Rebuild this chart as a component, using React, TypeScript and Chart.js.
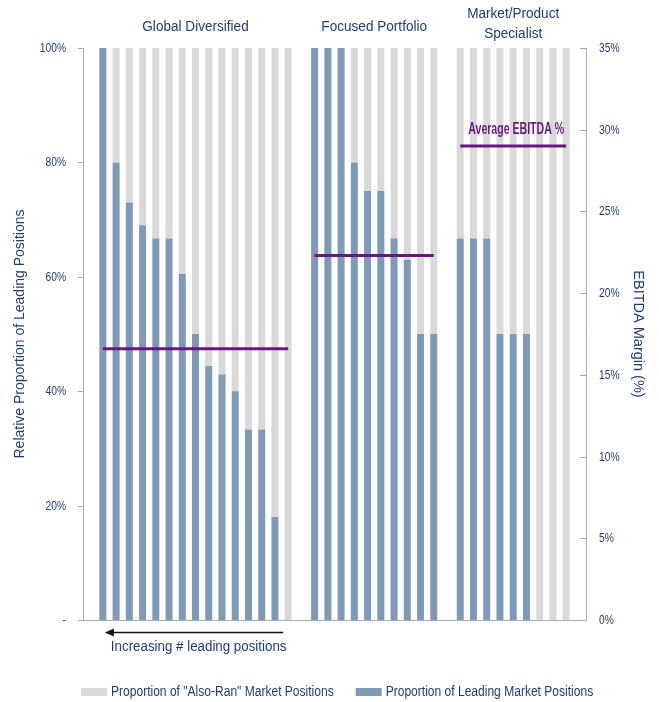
import React, { useEffect, useRef } from "react";
import { Chart, registerables } from "chart.js";

Chart.register(...registerables);

// ---------- data ----------
const groupNames = ["Global Diversified", "Focused Portfolio", "Market/Product\nSpecialist"];
const globalLeading = [100, 80, 73, 69, 66.7, 66.7, 60.5, 50, 44.4, 42.9, 40, 33.3, 33.3, 18, 0];
const focusedLeading = [100, 100, 100, 80, 75, 75, 66.7, 63, 50, 50];
const specialistLeading = [66.7, 66.7, 66.7, 50, 50, 50, 0, 0, 0];
const avgEbitda = [16.6, 22.3, 29.0];
const seriesNames = ['Proportion of "Also-Ran" Market Positions', "Proportion of Leading Market Positions"];
const leftTitle = "Relative Proportion of Leading Positions";
const rightTitle = "EBITDA Margin (%)";
const arrowNote = "Increasing # leading positions";
const avgLabel = "Average EBITDA %";

// ---------- styles ----------
const TEXT = "#1f3d72";
const AXIS = "#a3aab8";
const BLUE = "#7f9ab6";
const GREY = "#d9d9d9";
const PURPLE = "#68187c";
const SANS = "'Liberation Sans', Arial, sans-serif";
const SX = 0.86; // horizontal condensing of narrow text
const TICK_SX = 0.76;

// ---------- build slot table ----------
const groupsData = [globalLeading, focusedLeading, specialistLeading];
const leading: (number | null)[] = [null];
const groupRanges: [number, number][] = [];
groupsData.forEach((g) => {
  const s = leading.length;
  g.forEach((v) => leading.push(v));
  groupRanges.push([s, leading.length - 1]);
  leading.push(null);
});
const alsoRan = leading.map((v) => (v == null ? null : 100 - v));
const labels = leading.map((_, i) => String(i));
const avgLines = groupRanges.map((r, gi) =>
  leading.map((_, i) => (i >= r[0] && i <= r[1] ? avgEbitda[gi] : null))
);

function cText(ctx: any, text: string, x: number, y: number, align: string, sx: number) {
  ctx.save();
  ctx.translate(x, y);
  ctx.scale(sx, 1);
  ctx.textAlign = align;
  ctx.fillText(text, 0, 0);
  ctx.restore();
}

const overlay = {
  id: "overlay",
  afterDatasetsDraw(chart: any) {
    const { ctx, chartArea, scales } = chart;
    const x = scales.x;
    const y = scales.y;
    const y2 = scales.y2;
    ctx.save();
    ctx.textBaseline = "middle";
    // left axis ticks + labels
    ctx.strokeStyle = AXIS;
    ctx.lineWidth = 1;
    ctx.fillStyle = TEXT;
    ctx.font = `13.5px ${SANS}`;
    y.ticks.forEach((t: any) => {
      const py = Math.round(y.getPixelForValue(t.value)) + 0.5;
      ctx.beginPath();
      ctx.moveTo(chartArea.left - 5, py);
      ctx.lineTo(chartArea.left, py);
      ctx.stroke();
      cText(ctx, t.value === 0 ? "-" : t.value + "%", chartArea.left - 17, py, "right", TICK_SX);
    });
    // right axis ticks (inward) + labels
    y2.ticks.forEach((t: any) => {
      const py = Math.round(y2.getPixelForValue(t.value)) + 0.5;
      ctx.beginPath();
      ctx.moveTo(chartArea.right - 6, py);
      ctx.lineTo(chartArea.right, py);
      ctx.stroke();
      cText(ctx, t.value + "%", chartArea.right + 13, py, "left", TICK_SX);
    });
    // group titles
    ctx.font = `14px ${SANS}`;
    groupRanges.forEach((r, gi) => {
      const cx = (x.getPixelForValue(r[0]) + x.getPixelForValue(r[1])) / 2;
      const lines = groupNames[gi].split("\n");
      const off = lines.length === 1 ? 21 : 14;
      lines.forEach((ln, li) => {
        cText(ctx, ln, cx, chartArea.top - off - (lines.length - 1 - li) * 20, "center", 0.97);
      });
    });
    // average label
    const r3 = groupRanges[2];
    const cx3 = (x.getPixelForValue(r3[0]) + x.getPixelForValue(r3[1])) / 2;
    ctx.fillStyle = PURPLE;
    ctx.font = `bold 16px ${SANS}`;
    cText(ctx, avgLabel, cx3 + 3, y2.getPixelForValue(avgEbitda[2]) - 16, "center", 0.66);
    // arrow
    const ay = chartArea.bottom + 12.5;
    const x0 = x.getPixelForValue(groupRanges[0][0]) + 2;
    const x1 = x.getPixelForValue(groupRanges[0][1]) - 5;
    ctx.strokeStyle = "#111";
    ctx.lineWidth = 1.5;
    ctx.beginPath();
    ctx.moveTo(x1, ay);
    ctx.lineTo(x0 + 6, ay);
    ctx.stroke();
    ctx.fillStyle = "#111";
    ctx.beginPath();
    ctx.moveTo(x0, ay);
    ctx.lineTo(x0 + 9, ay - 4);
    ctx.lineTo(x0 + 9, ay + 4);
    ctx.closePath();
    ctx.fill();
    ctx.fillStyle = TEXT;
    ctx.font = `15.5px ${SANS}`;
    cText(ctx, arrowNote, x0 + 6, chartArea.bottom + 27, "left", SX);
    // legend
    ctx.font = `14px ${SANS}`;
    const ly = chartArea.bottom + 72;
    const items = [
      { text: seriesNames[0], color: GREY },
      { text: seriesNames[1], color: BLUE },
    ];
    let lx = chartArea.left - 2;
    items.forEach((it) => {
      ctx.fillStyle = it.color;
      ctx.fillRect(lx, ly - 4, 26, 8);
      ctx.fillStyle = TEXT;
      cText(ctx, it.text, lx + 30, ly, "left", SX);
      lx += 30 + ctx.measureText(it.text).width * SX + 22;
    });
    ctx.restore();
  },
};

export default function App() {
  const ref = useRef<HTMLCanvasElement | null>(null);
  useEffect(() => {
    if (!ref.current) return;
    const lineSets = avgLines.map((d) => ({
      type: "line" as const,
      label: "avg",
      data: d,
      yAxisID: "y2",
      borderColor: PURPLE,
      borderWidth: 3,
      pointRadius: 0,
      spanGaps: false,
      borderCapStyle: "butt" as const,
      order: 0,
    }));
    const chart = new Chart(ref.current, {
      type: "bar",
      data: {
        labels,
        datasets: [
          ...lineSets,
          {
            label: seriesNames[1],
            data: leading,
            backgroundColor: BLUE,
            borderWidth: 0,
            yAxisID: "y",
            order: 1,
            barPercentage: 0.53,
            categoryPercentage: 1,
          },
          {
            label: seriesNames[0],
            data: alsoRan,
            backgroundColor: GREY,
            borderWidth: 0,
            yAxisID: "y",
            order: 1,
            barPercentage: 0.53,
            categoryPercentage: 1,
          },
        ] as any,
      },
      options: {
        animation: false,
        responsive: false,
        layout: { padding: { top: 48, left: 0, right: 0, bottom: 0 } },
        plugins: {
          tooltip: { enabled: false },
          legend: { display: false },
        },
        scales: {
          x: {
            stacked: true,
            grid: { display: false },
            border: { display: true, color: AXIS },
            ticks: { display: false },
            afterFit: (s: any) => {
              s.height = 82;
            },
          },
          y: {
            stacked: true,
            position: "left",
            min: 0,
            max: 100,
            ticks: { stepSize: 20, display: false },
            grid: { display: false },
            border: { color: AXIS },
            title: {
              display: true,
              text: leftTitle,
              color: TEXT,
              font: { family: SANS, size: 14 },
              padding: { top: 12, bottom: 0 },
            },
            afterFit: (s: any) => {
              s.width = 83;
            },
          },
          y2: {
            position: "right",
            min: 0,
            max: 35,
            ticks: { stepSize: 5, display: false },
            grid: { display: false },
            border: { color: AXIS },
            title: {
              display: true,
              text: rightTitle,
              color: TEXT,
              font: { family: SANS, size: 14.5 },
              padding: { top: 12, bottom: 0 },
            },
            afterFit: (s: any) => {
              s.width = 73;
            },
          },
        },
      },
      plugins: [overlay],
    });
    return () => chart.destroy();
  }, []);
  return (
    <div style={{ position: "absolute", left: 0, top: 0, width: 659, height: 702, background: "#fff" }}>
      <canvas ref={ref} width={659} height={702} style={{ display: "block" }} />
    </div>
  );
}
